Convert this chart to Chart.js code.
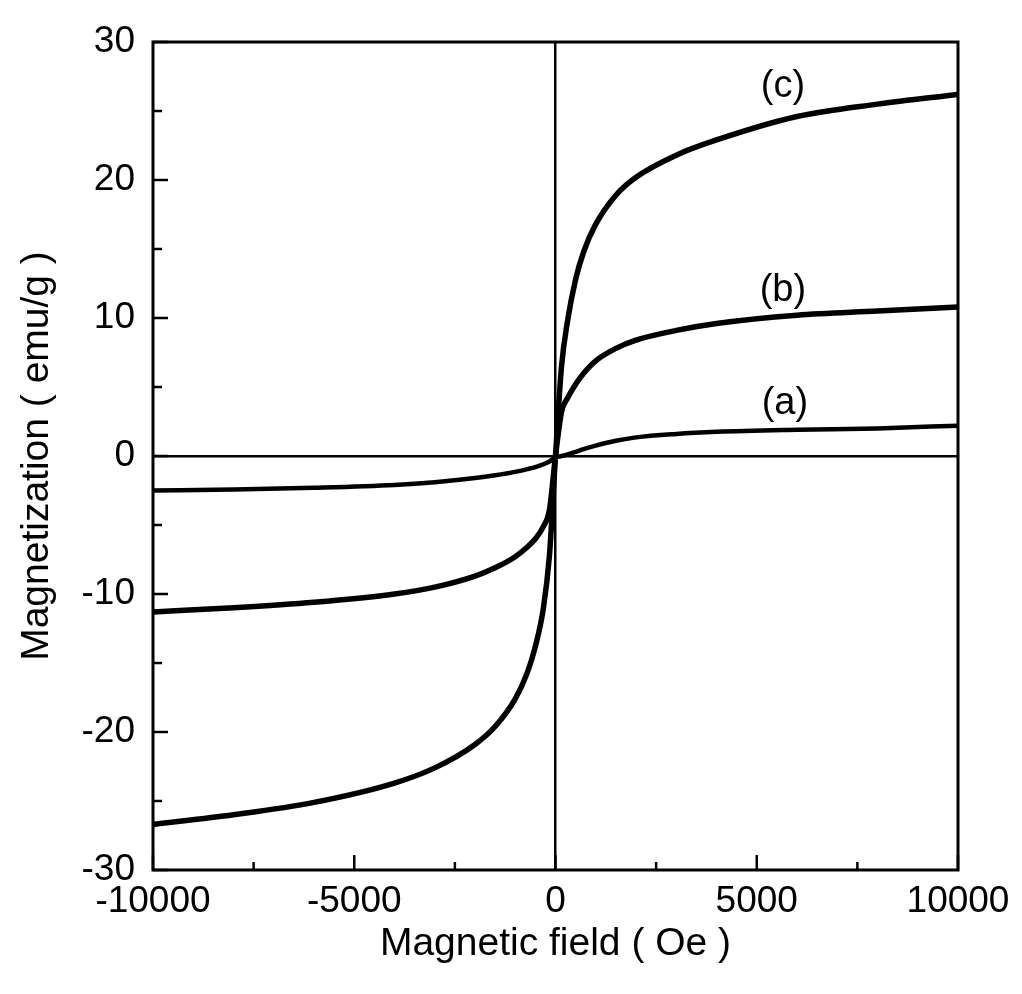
<!DOCTYPE html>
<html>
<head>
<meta charset="utf-8">
<script src="https://cdn.jsdelivr.net/npm/chart.js@4/dist/chart.umd.min.js"></script>
<style>
  html, body { margin: 0; padding: 0; background: #fff; }
  #wrap { width: 1022px; height: 994px; position: relative; }
</style>
</head>
<body>
<div id="wrap"><canvas id="magChart"></canvas></div>
<script>
// campo magnético (Oe) e magnetização (emu/g)
const fieldValues = [-10000, -8000, -6000, -4000, -3000, -2000, -1500, -1000, -700, -500, -300, -150,
    0, 150, 300, 500, 700, 1000, 1500, 2000, 3000, 4000, 6000, 8000, 10000];
const magA = [-2.5, -2.42, -2.3, -2.1, -1.9, -1.6, -1.4, -1.15, -0.95, -0.8, -0.6, -0.4,
    -0.1, 0.0, 0.12, 0.3, 0.5, 0.75, 1.1, 1.35, 1.6, 1.75, 1.9, 2.0, 2.2];
const magB = [-11.3, -11.0, -10.6, -10.0, -9.5, -8.7, -8.1, -7.3, -6.6, -6.0, -5.1, -3.9,
    0, 3.2, 4.2, 5.2, 6.0, 6.9, 7.8, 8.4, 9.1, 9.6, 10.2, 10.5, 10.8];
const magC = [-26.7, -26.0, -25.1, -23.7, -22.6, -20.9, -19.6, -17.6, -15.7, -13.8, -11.0, -7.2,
    0, 6.5, 9.8, 12.8, 14.8, 16.8, 18.9, 20.2, 21.8, 22.9, 24.6, 25.5, 26.2];

const curveLabels = ['(a)', '(b)', '(c)'];
// onde cada rótulo fica, em coordenadas dos dados
const labelX = [5700, 5650, 5650];
const labelY = [3.8, 12.0, 26.8];

const FONT = "'Liberation Sans', Arial, Helvetica, sans-serif";

function toPoints(ys) {
    return fieldValues.map((x, i) => ({ x: x, y: ys[i] }));
}

function serie(ys, largura) {
    return {
        data: toPoints(ys),
        showLine: true,
        borderColor: '#000',
        borderWidth: largura,
        pointRadius: 0,
        cubicInterpolationMode: 'monotone',
        fill: false
    };
}

// moldura, marcas internas e rótulos das curvas
const framePlugin = {
    id: 'frame',
    afterDraw(chart) {
        const ctx = chart.ctx;
        const area = chart.chartArea;
        const xs = chart.scales.x;
        const ys = chart.scales.y;
        ctx.save();
        ctx.strokeStyle = '#000';
        ctx.lineWidth = 3;
        ctx.strokeRect(area.left, area.top, area.right - area.left, area.bottom - area.top);

        ctx.lineWidth = 2.5;
        for (let v = -10000; v <= 10000; v += 2500) {
            const px = xs.getPixelForValue(v);
            const len = (v % 5000 === 0) ? 15 : 8;
            ctx.beginPath();
            ctx.moveTo(px, area.bottom);
            ctx.lineTo(px, area.bottom - len);
            ctx.stroke();
        }
        for (let v = -30; v <= 30; v += 5) {
            const py = ys.getPixelForValue(v);
            const len = (v % 10 === 0) ? 15 : 9;
            ctx.beginPath();
            ctx.moveTo(area.left, py);
            ctx.lineTo(area.left + len, py);
            ctx.stroke();
        }

        ctx.fillStyle = '#000';
        ctx.font = '38px ' + FONT;
        ctx.textAlign = 'center';
        ctx.textBaseline = 'middle';
        curveLabels.forEach((txt, i) => {
            ctx.fillText(txt, xs.getPixelForValue(labelX[i]), ys.getPixelForValue(labelY[i]));
        });
        ctx.restore();
    }
};

function zeroLine(ctx) {
    return ctx.tick && ctx.tick.value === 0 ? '#000' : 'rgba(0,0,0,0)';
}

new Chart(document.getElementById('magChart'), {
    type: 'scatter',
    data: {
        datasets: [serie(magA, 4.5), serie(magB, 5.5), serie(magC, 5.5)]
    },
    options: {
        responsive: true,
        maintainAspectRatio: false,
        animation: false,
        layout: { padding: { left: 0, right: 64, top: 42, bottom: 0 } },
        plugins: {
            legend: { display: false },
            tooltip: { enabled: false }
        },
        scales: {
            x: {
                type: 'linear',
                min: -10000,
                max: 10000,
                afterFit(scale) { scale.height = 124; },
                border: { display: false },
                grid: { color: zeroLine, lineWidth: 2.5, drawTicks: false },
                ticks: {
                    stepSize: 5000,
                    padding: 10,
                    color: '#000',
                    font: { family: FONT, size: 37 },
                    callback: v => String(v)
                },
                title: {
                    display: true,
                    text: 'Magnetic field ( Oe )',
                    color: '#000',
                    font: { family: FONT, size: 39 },
                    padding: { top: 0, bottom: 26 }
                }
            },
            y: {
                type: 'linear',
                min: -30,
                max: 30,
                afterFit(scale) { scale.width = 153; },
                border: { display: false },
                grid: { color: zeroLine, lineWidth: 2.5, drawTicks: false },
                ticks: {
                    stepSize: 10,
                    padding: 18,
                    color: '#000',
                    font: { family: FONT, size: 37 },
                    callback: v => String(v)
                },
                title: {
                    display: true,
                    text: 'Magnetization ( emu/g )',
                    color: '#000',
                    font: { family: FONT, size: 39 },
                    padding: { top: 14, bottom: 0 }
                }
            }
        }
    },
    plugins: [framePlugin]
});
</script>
</body>
</html>
